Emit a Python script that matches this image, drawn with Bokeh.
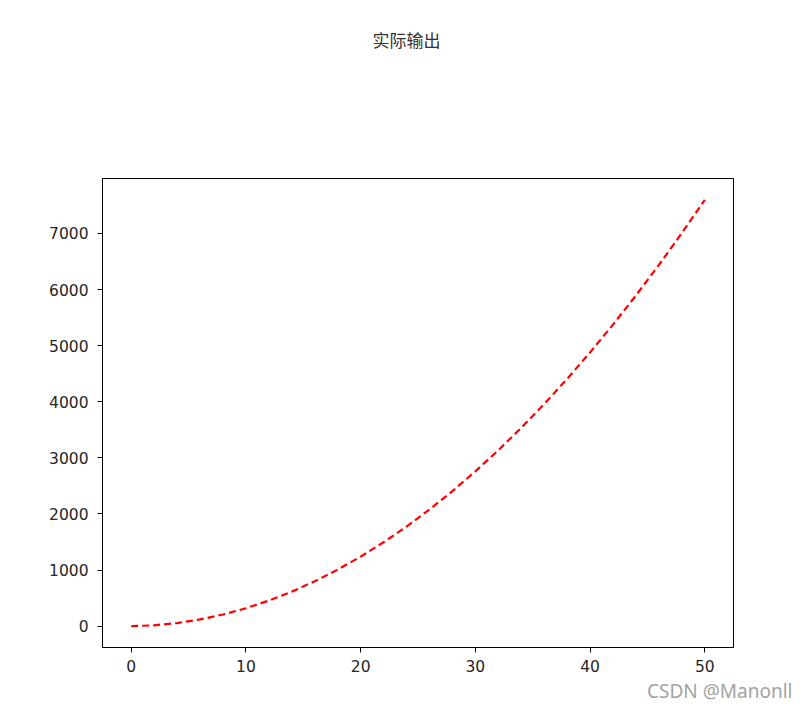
from bokeh.plotting import figure
from bokeh.models import Range1d, FixedTicker, Title
from bokeh.embed import file_html
from bokeh.resources import INLINE

# data
x_vals = [0, 2, 4, 6, 8, 10, 12, 14, 16, 18, 20, 22, 24, 26, 28, 30,
          32, 34, 36, 38, 40, 42, 44, 46, 48, 50]
y_vals = [0, 16, 56, 120, 208, 320, 456, 616, 800, 1008, 1240, 1496, 1776,
          2080, 2408, 2760, 3136, 3536, 3960, 4408, 4880, 5376, 5896, 6440,
          7008, 7600]
x_ticks = [0, 10, 20, 30, 40, 50]
y_ticks = [0, 1000, 2000, 3000, 4000, 5000, 6000, 7000]
title_text = "实际输出"
watermark_text = "CSDN @Manonll"

p = figure(width=800, height=706, output_backend="svg", toolbar_location=None,
           x_range=Range1d(-2.5, 52.5), y_range=Range1d(-380, 7980),
           min_border_left=102, min_border_right=67, min_border_top=178,
           min_border_bottom=59)

p.line(x_vals, y_vals, line_color="#ff0000", line_width=2.2, line_dash="7 4")

p.xgrid.visible = False
p.ygrid.visible = False
p.outline_line_color = "black"
p.outline_line_width = 1
p.background_fill_color = "white"
p.border_fill_color = "white"

for ax in (p.xaxis[0], p.yaxis[0]):
    ax.axis_line_color = "black"
    ax.major_tick_line_color = "black"
    ax.major_tick_out = 5
    ax.major_tick_in = 0
    ax.minor_tick_line_color = None
    ax.major_label_text_font = "DejaVu Sans"
    ax.major_label_text_font_size = "15.5px"
    ax.major_label_text_color = "#262626"
p.yaxis[0].major_label_standoff = 9
p.xaxis[0].major_label_standoff = 7

p.xaxis[0].ticker = FixedTicker(ticks=x_ticks)
p.yaxis[0].ticker = FixedTicker(ticks=y_ticks)

p.add_layout(Title(text=title_text, text_font="Noto Sans CJK SC",
                   text_font_size="17px", text_color="#333333",
                   text_font_style="normal", align="left", offset=270,
                   standoff=0,
                   padding=dict(top=0, right=0, bottom=127, left=0)), "above")
p.add_layout(Title(text=watermark_text, text_font="Noto Sans",
                   text_font_size="19px", text_color="#a3a3a3",
                   text_font_style="normal", align="right", offset=-59,
                   standoff=2, text_line_height=1.0), "below")

open("out.html", "w").write(file_html(p, INLINE))
